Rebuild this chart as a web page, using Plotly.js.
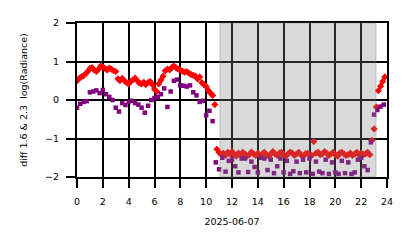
<!DOCTYPE html>
<html><head><meta charset="utf-8">
<script src="https://cdn.plot.ly/plotly-3.0.1.min.js"></script>
<style>body{margin:0;padding:0;background:#fff}#chart{width:414px;height:248px}</style>
</head><body><div id="chart"></div>
<script>
// Red series (hours, diff value), 10-minute sampling
const redHours = [
 0.00,0.17,0.33,0.50,0.67,0.83, 1.00,1.17,1.33,1.50,1.67,1.83,
 2.00,2.17,2.33,2.50,2.67,2.83, 3.00,3.17,3.33,3.50,3.67,3.83,
 4.00,4.17,4.33,4.50,4.67,4.83, 5.00,5.17,5.33,5.50,5.67,5.83,
 6.00,6.17,6.33,6.50,6.67,6.83, 7.00,7.17,7.33,7.50,7.67,7.83,
 8.00,8.17,8.33,8.50,8.67,8.83, 9.00,9.17,9.33,9.50,9.67,9.83,
 10.00,10.17,10.33,10.50,10.67,10.83, 11.00,11.17,11.33,11.50,11.67,11.83,
 12.00,12.17,12.33,12.50,12.67,12.83, 13.00,13.17,13.33,13.50,13.67,13.83,
 14.00,14.17,14.33,14.50,14.67,14.83, 15.00,15.17,15.33,15.50,15.67,15.83,
 16.00,16.17,16.33,16.50,16.67,16.83, 17.00,17.17,17.33,17.50,17.67,17.83,
 18.00,18.17,18.33,18.50,18.67,18.83, 19.00,19.17,19.33,19.50,19.67,19.83,
 20.00,20.17,20.33,20.50,20.67,20.83, 21.00,21.17,21.33,21.50,21.67,21.83,
 22.00,22.17,22.33,22.50,22.67,22.83, 23.00,23.17,23.33,23.50,23.67,23.83
];
const redValues = [
 0.50,0.56,0.60,0.63,0.68,0.74, 0.82,0.84,0.78,0.74,0.80,0.88,
 0.86,0.82,0.78,0.83,0.80,0.76, 0.74,0.55,0.50,0.56,0.50,0.45,
 0.42,0.48,0.52,0.57,0.50,0.44, 0.42,0.46,0.40,0.45,0.48,0.40,
 0.28,0.22,0.42,0.52,0.62,0.76, 0.80,0.78,0.84,0.88,0.84,0.80,
 0.78,0.75,0.72,0.74,0.70,0.66, 0.64,0.62,0.55,0.60,0.45,0.40,
 0.35,0.25,0.18,0.12,-0.12,-1.28, -1.36,-1.42,-1.38,-1.44,-1.36,-1.40,
 -1.34,-1.42,-1.46,-1.38,-1.44,-1.36, -1.40,-1.46,-1.42,-1.35,-1.40,-1.44,
 -1.38,-1.44,-1.40,-1.36,-1.42,-1.46, -1.40,-1.34,-1.40,-1.44,-1.38,-1.36,
 -1.42,-1.46,-1.40,-1.35,-1.38,-1.44, -1.40,-1.36,-1.42,-1.46,-1.40,-1.38,
 -1.42,-1.44,-1.08,-1.38,-1.36,-1.42, -1.40,-1.34,-1.38,-1.44,-1.40,-1.36,
 -1.42,-1.46,-1.38,-1.36,-1.40,-1.44, -1.42,-1.38,-1.44,-1.40,-1.36,-1.42,
 -1.38,-1.42,-1.40,-1.36,-1.42,-1.05, -0.75,-0.18,0.24,0.36,0.48,0.60
];
// Purple series (hours, diff value), 15-minute sampling
const purpleHours = [
 0.00,0.25,0.50,0.75, 1.00,1.25,1.50,1.75, 2.00,2.25,2.50,2.75,
 3.00,3.25,3.50,3.75, 4.00,4.25,4.50,4.75, 5.00,5.25,5.50,5.75,
 6.00,6.25,6.50,6.75, 7.00,7.25,7.50,7.75, 8.00,8.25,8.50,8.75,
 9.00,9.25,9.50,9.75, 10.00,10.25,10.50,10.75, 11.00,11.25,11.50,11.75,
 12.00,12.25,12.50,12.75, 13.00,13.25,13.50,13.75, 14.00,14.25,14.50,14.75,
 15.00,15.25,15.50,15.75, 16.00,16.25,16.50,16.75, 17.00,17.25,17.50,17.75,
 18.00,18.25,18.50,18.75, 19.00,19.25,19.50,19.75, 20.00,20.25,20.50,20.75,
 21.00,21.25,21.50,21.75, 22.00,22.25,22.50,22.75, 23.00,23.25,23.50,23.75
];
const purpleValues = [
 -0.20,-0.10,-0.05,-0.03, 0.20,0.22,0.25,0.18, 0.26,0.15,0.08,0.00,
 -0.20,-0.30,-0.08,-0.13, -0.05,-0.02,-0.08,-0.12, -0.20,-0.33,-0.15,0.00,
 0.05,0.08,0.15,0.30, -0.18,0.22,0.50,0.53, 0.38,0.37,0.35,0.38,
 0.20,0.12,-0.05,-0.02, -0.40,-0.28,-0.55,-1.62, -1.80,-1.50,-1.86,-1.58,
 -1.55,-1.72,-1.88,-1.52, -1.52,-1.87,-1.60,-1.74, -1.88,-1.50,-1.52,-1.82,
 -1.55,-1.90,-1.72,-1.52, -1.88,-1.58,-1.92,-1.85, -1.60,-1.90,-1.55,-1.88,
 -1.52,-1.92,-1.60,-1.86, -1.90,-1.55,-1.92,-1.62, -1.88,-1.92,-1.58,-1.90,
 -1.62,-1.92,-1.88,-1.55, -1.50,-1.72,-1.82,-1.10, -0.38,-0.26,-0.17,-0.12
];
const xTicks = [0,2,4,6,8,10,12,14,16,18,20,22,24];
const yTicks = [-2,-1,0,1,2];
const nightStart = 11.07, nightEnd = 23.15;
const xLabel = "2025-06-07";
const yLabel = "diff 1.6 & 2.3  log(Radiance)";

const font = {family: "DejaVu Sans", size: 9.5, color: "#000"};
const data = [
 {x: redHours, y: redValues, mode: "markers", type: "scatter",
  marker: {symbol: "diamond", size: 5.5, color: "#ff0000", line: {width: 0}}},
 {x: purpleHours, y: purpleValues, mode: "markers", type: "scatter",
  marker: {symbol: "square", size: 4.5, color: "#800080", line: {width: 0}}}
];
const axisCommon = {
 showgrid: true, gridcolor: "#000", gridwidth: 2,
 showline: true, linecolor: "#000", linewidth: 2, mirror: true,
 zeroline: false, ticks: "outside", ticklen: 9, tickwidth: 2, tickcolor: "#000",
 tickfont: font, automargin: false
};
const layout = {
 width: 414, height: 248,
 margin: {l: 77, r: 27, t: 23, b: 71},
 paper_bgcolor: "#fff", plot_bgcolor: "#fff",
 showlegend: false, font: font,
 xaxis: Object.assign({}, axisCommon, {
   range: [0, 24], tickmode: "array", tickvals: xTicks, ticktext: xTicks.map(String),
   ticklabelstandoff: 6,
   title: {text: xLabel, font: font, standoff: 12}
 }),
 yaxis: Object.assign({}, axisCommon, {
   range: [-2, 2], tickmode: "array", tickvals: yTicks,
   ticklabelstandoff: 5,
   title: {text: yLabel, font: font, standoff: 16}
 }),
 shapes: [{type: "rect", xref: "x", yref: "paper", x0: nightStart, x1: nightEnd, y0: 0, y1: 1,
   fillcolor: "rgba(128,128,128,0.3)", line: {color: "rgba(128,128,128,0.4)", width: 1}, layer: "above"}]
};
Plotly.newPlot("chart", data, layout, {staticPlot: true, displayModeBar: false});
</script>
</body></html>
